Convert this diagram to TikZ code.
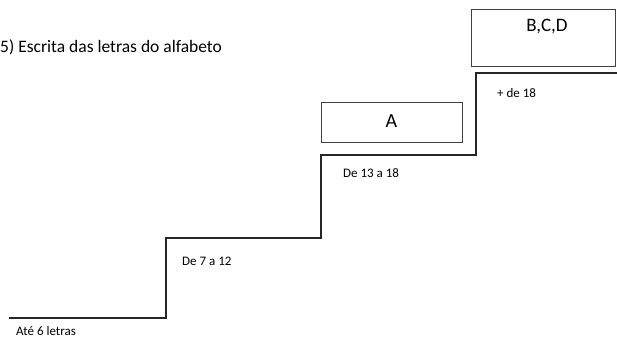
\documentclass[tikz,border=0pt]{standalone}
\usepackage{fontspec}
\setmainfont{Carlito}
\begin{document}
\begin{tikzpicture}[x=1pt,y=-1pt,
  lbl/.style={anchor=west,inner sep=0pt,font=\fontsize{13}{15}\selectfont},
  boxnode/.style={draw=black!75,line width=0.9pt,inner sep=0pt},
  stair/.style={draw=black!85,line width=2pt,line join=miter}]
\useasboundingbox (0,0) rectangle (617,346);
\clip (0,0) rectangle (617,346);
% title
\node[anchor=west,inner sep=0pt,font=\fontsize{17.5}{20}\selectfont] (title) at (0,47) {5) Escrita das letras do alfabeto};
% boxes
\node[boxnode,minimum width=141pt,minimum height=40pt] (boxA) at (391.5,122) {};
\node[font=\fontsize{20}{23}\selectfont,inner sep=0pt] (tA) at (391.5,121) {A};
\node[boxnode,minimum width=144pt,minimum height=57pt,anchor=north west] (boxB) at (471,9) {};
\node[font=\fontsize{19}{22}\selectfont,inner sep=0pt] (tB) at (547,27) {B,C,D};
% stairs
\coordinate (s0) at (9,318);
\coordinate (s1) at (166,318);
\coordinate (s2) at (166,238);
\coordinate (s3) at (321,238);
\coordinate (s4) at (321,155);
\coordinate (s5) at (476,155);
\coordinate (s6) at (476,73);
\coordinate (s7) at (620,73);
\draw[stair] (s0) -- (s1) -- (s2) -- (s3) -- (s4) -- (s5) -- (s6) -- (s7);
% labels
\node[lbl] (l1) at (16,331) {Até 6 letras};
\node[lbl] (l2) at (182,261) {De 7 a 12};
\node[lbl] (l3) at (343,173) {De 13 a 18};
\node[lbl] (l4) at (497,93) {+ de 18};
\end{tikzpicture}
\end{document}
